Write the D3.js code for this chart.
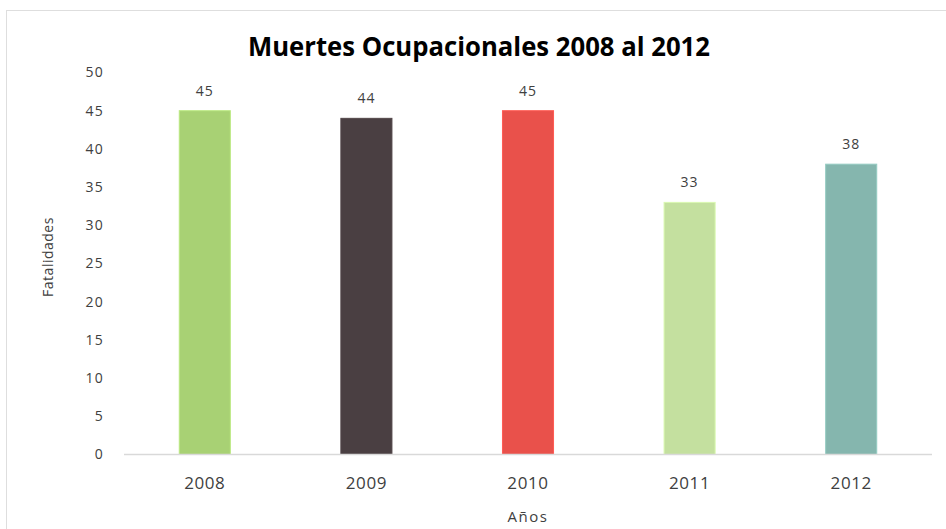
<!DOCTYPE html>
<html lang="es">
<head>
<meta charset="utf-8">
<script src="https://d3js.org/d3.v7.min.js"></script>
<style type="text/css">
body {
	margin: 0;
	background: #fff;
	font-family: "Open Sans", sans-serif;
}
</style>
</head>
<body>
<script type="text/javascript">

// Chart data
var years = ["2008", "2009", "2010", "2011", "2012"];
var deaths = [45, 44, 45, 33, 38];
var barColors = ["#a8d174", "#4a3f42", "#e9514b", "#c4e09f", "#85b6ae"];
var yTicks = [0, 5, 10, 15, 20, 25, 30, 35, 40, 45, 50];

var width = 946;
var height = 529;
var margin = {top: 72.5, right: 14, bottom: 74.5, left: 124};

var svg = d3.select("body")
            .append("svg")
            .attr("width", width)
            .attr("height", height);

// light frame round the chart
svg.append("rect")
   .attr("x", 6.5)
   .attr("y", 10.5)
   .attr("width", width)
   .attr("height", height)
   .style("fill", "none")
   .style("stroke", "#dedede");

var x = d3.scaleBand()
          .domain(years)
          .range([margin.left, width - margin.right])
          .paddingInner(0.684)
          .paddingOuter(0.342);

var y = d3.scaleLinear()
          .domain([0, 50])
          .range([height - margin.bottom, margin.top]);

// y axis, labels only
var yAxis = d3.axisLeft(y)
              .tickValues(yTicks)
              .tickSize(0)
              .tickPadding(0);

var gy = svg.append("g")
            .attr("transform", "translate(104,0)")
            .call(yAxis);
gy.select(".domain").remove();
gy.selectAll("text")
  .style("font-family", "Open Sans, sans-serif")
  .style("font-size", "14px")
  .style("letter-spacing", "1.2px")
  .style("fill", "#404040");

// bars
svg.selectAll("rect.bar")
   .data(deaths)
   .enter()
   .append("rect")
   .attr("class", "bar")
   .attr("x", function(d, i) { return x(years[i]); })
   .attr("y", function(d) { return y(d); })
   .attr("width", x.bandwidth())
   .attr("height", function(d) { return y(0) - y(d); })
   .style("fill", function(d, i) { return barColors[i]; })
   .style("stroke", function(d, i) { return d3.color(barColors[i]).brighter(0.3); })
   .style("stroke-width", 1);

// baseline
svg.append("line")
   .attr("x1", margin.left)
   .attr("x2", width - margin.right)
   .attr("y1", y(0))
   .attr("y2", y(0))
   .style("stroke", "#d9d9d9")
   .style("stroke-width", 1.5);

// value labels
svg.selectAll("text.val")
   .data(deaths)
   .enter()
   .append("text")
   .attr("class", "val")
   .attr("x", function(d, i) { return x(years[i]) + x.bandwidth() / 2; })
   .attr("y", function(d) { return y(d) - 15; })
   .attr("text-anchor", "middle")
   .style("font-size", "14px")
   .style("letter-spacing", "1px")
   .style("fill", "#404040")
   .text(function(d) { return d; });

// x axis, labels only
var xAxis = d3.axisBottom(x).tickSize(0).tickPadding(0);
var gx = svg.append("g")
            .attr("transform", "translate(0," + (y(0) + 22) + ")")
            .call(xAxis);
gx.select(".domain").remove();
gx.selectAll("text")
  .style("font-family", "Open Sans, sans-serif")
  .style("font-size", "17px")
  .style("letter-spacing", "0.6px")
  .style("fill", "#404040");

// axis titles
svg.append("text")
   .attr("x", (margin.left + width - margin.right) / 2)
   .attr("y", 522)
   .attr("text-anchor", "middle")
   .style("font-size", "15px")
   .style("letter-spacing", "1.5px")
   .style("fill", "#404040")
   .text("Años");

svg.append("text")
   .attr("transform", "translate(53,257) rotate(-90)")
   .attr("text-anchor", "middle")
   .style("font-size", "14px")
   .style("letter-spacing", "0.5px")
   .style("fill", "#404040")
   .text("Fatalidades");

// chart title
svg.append("text")
   .attr("x", 479)
   .attr("y", 56)
   .attr("text-anchor", "middle")
   .attr("textLength", 462)
   .attr("lengthAdjust", "spacingAndGlyphs")
   .style("font-size", "27px")
   .style("font-weight", "bold")
   .style("fill", "#000")
   .text("Muertes Ocupacionales 2008 al 2012");

</script>
</body>
</html>
